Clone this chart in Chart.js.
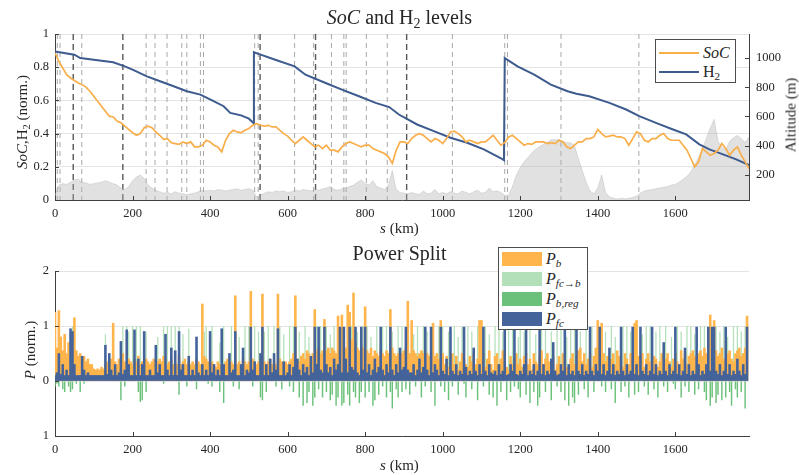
<!DOCTYPE html>
<html lang="en">
<head>
<meta charset="utf-8">
<title>SoC and H2 levels / Power Split</title>
<script src="https://cdn.jsdelivr.net/npm/chart.js@4.4.1/dist/chart.umd.min.js"></script>
<style>
  html, body { margin: 0; padding: 0; background: #fff; }
  #page { position: relative; width: 799px; height: 475px; overflow: hidden;
          font-family: "Liberation Serif", "DejaVu Serif", serif; color: #262626; }
  .panel { position: absolute; left: 0; width: 799px; }
  #socPanel { top: 0; height: 240px; }
  #powerPanel { top: 240px; height: 235px; }
  .label { position: absolute; white-space: nowrap; line-height: 1; }
  .title { left: 0; width: 799px; text-align: center; font-size: 20px; }
  .xlabel { left: 0; width: 799px; text-align: center; font-size: 15px; }
  .ylabel { font-size: 15px; transform: translate(-50%, -50%) rotate(-90deg); }
  sub { font-size: 70%; vertical-align: -0.3em; line-height: 0; }
  .legend { position: absolute; background: #fff; border: 1px solid #4d4d4d; box-sizing: border-box; }
  .legend .entry { position: absolute; left: 0; right: 0; height: 20px; }
  .legend .swatch { position: absolute; left: 3px; width: 40px; }
  .legend .text { position: absolute; left: 47px; font-size: 16px; line-height: 20px; top: 0; }
</style>
</head>
<body>
<div id="page">
  <div class="panel" id="socPanel"><canvas id="socChart"></canvas></div>
  <div class="panel" id="powerPanel"><canvas id="powerChart"></canvas></div>

  <div class="label title" style="top:7px;"><i>SoC</i> and H<sub>2</sub> levels</div>
  <div class="label xlabel" style="top:221px;"><i>s</i> (km)</div>
  <div class="label ylabel" style="left:22px; top:122px;"><i>SoC</i>,H<sub>2</sub> (norm.)</div>
  <div class="label ylabel" style="left:791px; top:115px;">Altitude (m)</div>

  <div class="label title" style="top:243px;">Power Split</div>
  <div class="label xlabel" style="top:458px;"><i>s</i> (km)</div>
  <div class="label ylabel" style="left:30px; top:350px;"><i>P</i> (norm.)</div>

  <div class="legend" style="left:655px; top:39px; width:81px; height:44px;">
    <div class="entry" style="top:3px;"><div class="swatch" style="top:9px; height:2px; background:#f9ae4a;"></div><div class="text"><i>SoC</i></div></div>
    <div class="entry" style="top:22px;"><div class="swatch" style="top:9px; height:2px; background:#3d5b8e;"></div><div class="text">H<sub>2</sub></div></div>
  </div>

  <div class="legend" style="left:498px; top:247px; width:90px; height:83px;">
    <div class="entry" style="top:1px;"><div class="swatch" style="top:3px; height:14px; background:#ffb54c;"></div><div class="text"><i>P<sub>b</sub></i></div></div>
    <div class="entry" style="top:21px;"><div class="swatch" style="top:3px; height:14px; background:#b3e0b8;"></div><div class="text"><i>P<sub>fc→b</sub></i></div></div>
    <div class="entry" style="top:41px;"><div class="swatch" style="top:3px; height:14px; background:#6cc17a;"></div><div class="text"><i>P<sub>b,reg</sub></i></div></div>
    <div class="entry" style="top:61px;"><div class="swatch" style="top:3px; height:14px; background:#43639a;"></div><div class="text"><i>P<sub>fc</sub></i></div></div>
  </div>
</div>

<script>
// Sample spacing along the route (km)
const socStepKm = 10;
const powerStepKm = 5;
const kmMax = 1790;

// Battery state of charge, one value every 10 km
const socLevel = [
  .885,.835,.795,.755,.735,.72,.705,.695,.68,.655,
  .625,.595,.565,.535,.505,.50,.475,.465,.445,.425,
  .405,.39,.40,.435,.445,.435,.41,.39,.365,.37,
  .345,.34,.335,.35,.34,.35,.32,.32,.33,.36,
  .35,.33,.32,.29,.36,.40,.42,.41,.405,.42,
  .43,.45,.46,.45,.445,.45,.44,.44,.42,.40,
  .385,.36,.34,.36,.38,.36,.34,.32,.33,.31,
  .33,.30,.30,.29,.32,.34,.35,.34,.33,.32,
  .33,.33,.31,.30,.29,.28,.26,.22,.30,.35,
  .35,.34,.37,.39,.40,.39,.37,.35,.37,.36,
  .34,.37,.41,.415,.40,.38,.35,.36,.35,.34,
  .35,.35,.37,.39,.36,.33,.345,.38,.39,.37,
  .35,.33,.34,.335,.35,.35,.35,.34,.345,.34,
  .36,.35,.32,.31,.33,.35,.35,.37,.37,.38,
  .425,.40,.38,.385,.39,.38,.38,.37,.33,.37,
  .41,.40,.36,.35,.37,.37,.39,.40,.37,.36,
  .36,.36,.33,.30,.25,.20,.23,.31,.29,.27,
  .28,.30,.34,.31,.27,.30,.32,.27,.23,.19
];

// Road altitude (m), same 10 km grid
const altitudeM = [
  60,130,140,135,150,165,170,150,145,135,
  140,145,150,160,150,140,130,110,100,120,
  160,185,200,175,130,110,95,85,75,80,
  70,85,75,70,65,70,75,85,95,90,
  95,90,100,95,90,95,100,105,95,100,
  105,95,50,60,75,85,80,90,85,90,
  80,85,95,90,100,95,90,100,95,105,
  110,120,100,95,105,110,120,130,150,165,
  140,130,160,120,110,100,130,230,100,80,
  75,70,80,70,65,90,70,75,100,70,
  80,70,85,75,70,90,80,70,85,95,
  75,80,110,85,90,80,60,60,120,200,
  250,290,320,350,375,395,410,425,440,440,
  442,430,420,420,400,310,230,150,90,70,
  110,200,80,50,40,35,40,35,40,45,
  55,75,90,95,100,105,110,115,120,130,
  135,150,170,190,220,270,320,380,450,520,
  580,430,390,370,430,455,470,450,420,460
];

// Hydrogen tank level, refuelled twice
const h2Km = [0,50,65,100,150,180,200,237,271,306,340,375,409,435,452,480,500,512,
  513,525,568,618,646,698,740,784,827,862,887,934,977,1020,1063,1106,1149,1158,
  1160,1193,1236,1279,1322,1345,1378,1430,1473,1507,1550,1594,1628,1662,1688,1723,1757,1790];
const h2Level = [.895,.875,.855,.845,.83,.805,.785,.745,.715,.685,.655,.635,.595,.565,.525,.51,.49,.464,
  .89,.88,.845,.805,.755,.705,.665,.625,.585,.56,.515,.455,.415,.375,.345,.305,.253,.24,
  .855,.805,.755,.695,.655,.64,.625,.585,.545,.505,.465,.425,.395,.335,.305,.275,.245,.21];

// Stops along the route (km)
const stopKmMajor = [47, 175, 529, 672, 907];
const stopKmMinor = [6, 13, 69, 235, 258, 289, 327, 340, 375, 383, 515, 524, 618, 667,
  713, 745, 751, 803, 857, 1025, 1160, 1167, 1305, 1506];

// Axis ticks
const kmTicks = [0, 200, 400, 600, 800, 1000, 1200, 1400, 1600];
const levelTicks = [0, 0.2, 0.4, 0.6, 0.8, 1];
const altitudeTicks = [200, 400, 600, 800, 1000];
const powerTicks = [-1, 0, 1, 2];
const powerTickLabels = ['1', '0', '1', '2'];

// Power split, one value every 5 km (normalised)
const pBattery = [
  1.25,.6,1.28,.8,.55,.85,.5,.7,.45,.6,1.15,.55,.45,.5,.4,.45,.35,.4,.3,.3,
  .22,.2,.22,.2,.25,.22,.3,.35,.3,.4,1.05,.35,.3,.4,.35,.5,.35,.3,.4,.35,
  .3,.4,.35,.45,.3,.35,.3,.4,.35,.3,.35,.4,.3,.35,.4,.35,.45,.35,.3,.35,
  .4,.3,.35,.3,.45,.3,.35,.4,.3,.35,.3,.35,.3,.4,.35,.3,1.4,.45,.4,.35,
  .3,.35,.3,.25,.35,.3,.25,.3,.35,.4,.3,.35,.3,1.55,.3,.35,.3,.4,.35,.3,
  .35,1.63,.4,.35,.3,.35,.4,1.58,.35,.3,.35,.4,.3,.35,.3,1.58,.4,.35,.3,.35,
  .3,.35,.4,.5,1.55,.4,.35,.45,.5,.4,.55,.5,.45,.5,1.3,.55,.6,.5,.55,1.12,
  .55,.6,.5,.6,.55,.5,1.18,.65,1.2,.7,.6,1.38,1.25,.75,1.6,.7,.6,.55,.65,.6,
  1.35,.55,.5,.6,.45,.55,.5,.45,.55,.5,.45,.55,.5,1.3,.6,.5,.45,.5,.4,.5,
  .55,.6,1.45,.5,1.1,.55,.5,.45,.5,.55,.5,.45,.5,.45,.5,1.05,.45,.5,.4,1.1,
  .5,.3,.45,.25,.4,.5,.3,.45,.2,.35,.5,.4,.3,.25,.45,.35,.5,.3,.4,1.1,
  1.1,.5,.25,.4,.55,.3,.2,.45,.5,.3,.4,.55,.35,.25,.2,.45,.3,.4,.5,.3,
  .4,.25,.45,.5,.3,.4,.2,.5,.35,.3,.45,.55,.3,.4,.5,.35,.25,.45,.2,.3,
  .45,.3,.5,.35,.25,.2,.4,.5,.3,.45,.55,.6,.35,.5,.3,.4,.5,.25,.45,.6,
  1.1,.6,1.05,.5,.35,.45,.25,.4,.5,.3,.55,.45,.35,.25,.5,.4,.3,.5,.35,1.05,
  1.1,.45,.3,.5,.25,.4,.5,.35,.2,.45,.4,.25,.35,.5,.3,.4,.5,.35,.25,.4,
  .5,.35,.25,.55,.4,.5,.3,.45,.5,.55,.45,.35,.5,.55,.45,.6,.5,.7,1.2,.65,
  1.1,.55,.45,.5,.6,.4,.35,.5,.55,.4,.35,.5,.55,.6,.45,.5,.6,1.18
];

const pFcToBattery = [
  0,0,0,0,0,0,0,0,0,1,1,0,0,0,0,0,0,0,0,0,
  0,0,0,0,0,0,.85,0,0,0,0,0,0,0,0,1,0,1,.9,0,
  1,0,1,0,1,0,0,.9,0,0,0,0,0,.8,0,0,1,0,1,0,
  1,0,1,0,1,0,.85,0,0,.95,0,0,0,0,0,0,0,.9,1,0,
  0,1,0,0,0,.7,0,1,0,0,0,1,0,0,0,.8,0,0,1,0,
  1,0,0,1,0,.9,0,0,.9,0,1,0,0,1,0,0,1,0,.85,0,
  0,1,0,1,0,0,.9,0,0,1,0,.8,0,0,0,1,0,1,0,0,
  1,0,.85,0,1,0,0,0,1,0,0,0,0,1,0,0,.9,0,0,1,
  0,1,0,.8,0,0,1,0,0,1,0,1,0,0,.9,0,0,1,0,1,
  0,0,1,0,0,.85,0,1,0,0,1,0,.9,0,0,1,0,0,1,0,
  1,0,0,.9,0,0,1,0,.8,0,1,0,0,1,0,.9,0,0,1,0,
  0,0,1,0,.85,0,0,1,0,1,0,.9,0,0,1,0,1,0,0,.8,
  1,0,.9,0,0,1,0,0,.85,0,0,1,0,1,0,0,.9,0,0,1,
  0,1,0,0,.8,0,1,0,1,0,0,.9,0,0,1,0,0,1,0,0,
  0,0,1,0,.9,0,0,1,0,.8,0,0,0,1,0,1,0,.9,0,1,
  1,0,0,.85,0,1,0,1,0,0,.9,0,1,0,0,1,0,0,.8,0,
  0,1,0,.9,0,0,1,0,1,0,.85,0,0,1,0,1,0,0,1,0,
  0,1,0,.9,0,1,0,.8,0,0,1,0,1,0,.9,0,1,0
];

const pRegen = [
  -.1,-.05,-.1,0,-.15,-.2,0,-.1,-.2,-.15,0,-.05,0,-.2,0,-.05,0,0,0,0,
  0,0,0,0,0,0,0,0,0,0,0,0,0,0,-.35,0,-.1,0,0,0,
  0,0,0,-.2,-.38,-.35,0,-.2,0,0,0,0,0,0,0,0,-.05,0,0,0,
  0,0,0,0,-.25,0,0,0,-.1,0,0,0,0,-.15,0,0,0,0,0,-.05,
  0,-.1,0,0,0,-.2,0,-.4,0,0,0,0,-.1,0,0,-.15,0,0,0,0,
  0,0,-.1,0,0,0,-.3,-.35,0,-.2,0,0,0,0,-.1,0,0,-.15,0,0,
  0,-.1,0,-.2,0,0,-.3,0,-.45,0,-.4,-.2,0,-.45,-.3,0,-.15,0,-.3,0,
  -.2,0,-.35,-.25,0,-.45,-.3,0,-.45,-.4,0,-.25,-.45,0,-.2,-.3,0,-.4,-.2,0,
  -.3,0,-.2,0,-.45,-.35,0,-.25,0,-.1,0,-.3,0,-.2,-.5,0,-.15,-.3,0,-.2,
  0,-.15,0,-.25,0,0,-.1,0,0,-.3,0,-.1,0,0,-.2,0,-.45,0,0,-.1,
  0,-.2,0,-.35,0,-.1,0,0,-.25,0,0,-.05,-.3,0,0,-.15,0,0,-.35,0,
  0,-.1,0,0,-.25,0,-.3,0,-.45,0,-.2,0,0,-.35,0,-.2,0,-.1,0,-.15,
  -.3,0,0,-.25,0,-.4,0,-.2,0,-.45,-.3,0,0,-.2,0,0,-.35,0,0,-.1,
  0,-.2,0,-.35,0,-.45,0,-.3,-.4,0,-.25,0,0,-.15,0,-.3,0,0,-.2,0,
  0,0,-.1,0,-.2,0,0,-.15,0,-.4,0,0,-.2,0,-.1,0,-.3,0,0,-.25,
  0,-.2,0,0,-.1,0,-.25,0,0,-.15,0,-.3,0,0,-.1,0,-.2,0,0,-.05,
  -.15,0,0,-.3,0,-.1,0,-.2,0,0,-.25,0,-.15,0,0,-.2,-.35,0,-.45,-.3,
  0,-.4,-.25,0,-.35,0,-.3,0,-.2,-.45,0,-.15,-.3,0,-.2,0,-.5,0
];

const pFuelCell = [
  .1,.15,.5,.12,.3,.1,.2,.1,.95,.9,.3,.1,.1,.1,.45,.2,.1,.15,.1,.1,
  .1,.1,.1,.1,.1,.1,.65,.12,.5,.2,.1,.3,.1,.15,.72,.12,.2,.93,.3,.1,
  .1,.93,.1,.4,.1,.3,.9,.1,.1,.2,.1,.1,.65,.15,.3,.1,.1,.85,.2,.1,
  .6,.1,.55,.1,.9,.2,.3,.1,.1,.45,.1,.2,.1,.8,.15,.1,.3,.1,.2,.1,
  .9,.15,.3,.1,.2,.1,.95,.3,.1,.1,.5,.15,.2,.9,.1,.1,.3,.6,.1,.2,
  .15,.98,.2,.35,.1,.1,.5,.98,.1,.3,.1,.4,.15,.5,.2,.95,.1,.1,.35,.1,
  .15,.3,.1,.25,.98,.4,.2,.1,.3,.15,.25,.1,.45,.15,.98,.3,.98,.2,.15,.98,
  .3,.15,.25,.1,.4,.2,.3,.98,.15,.98,.4,.15,.98,.25,.2,.98,.15,.1,.98,.2,
  .98,.15,.3,.1,.2,.4,.15,.25,.98,.2,.1,.3,.15,.98,.2,.1,.3,.15,.6,.2,
  .25,.98,.2,.15,.15,.3,.1,.2,.4,.15,.25,.98,.2,.1,.98,.15,.3,.2,.1,.98,
  .18,.12,.4,.1,.98,.18,.12,.3,.1,.18,.12,.98,.25,.1,.18,.12,.6,.18,.1,.3,
  .12,.98,.18,.1,.3,.15,.12,.18,.1,.3,.12,.18,.98,.1,.12,.3,.18,.98,.12,.1,
  .18,.12,.3,.98,.1,.18,.12,.3,.1,.18,.98,.12,.3,.1,.18,.12,.4,.7,.18,.1,
  .12,.3,.18,.98,.1,.3,.12,.18,.1,.98,.18,.12,.3,.1,.18,.12,.98,.18,.1,.3,
  .18,.98,.12,.3,.1,.18,.6,.12,.3,.1,.18,.12,.98,.18,.1,.3,.12,.18,.98,.12,
  .3,.1,.98,.18,.12,.3,.1,.18,.98,.12,.3,.1,.18,.12,.7,.18,.1,.3,.12,.18,
  .98,.12,.3,.1,.18,.6,.12,.3,.1,.18,.12,.98,.3,.1,.18,.12,.3,.98,.18,.98,
  .98,.18,.12,.3,.1,.18,.98,.12,.3,.1,.18,.12,.4,.18,.1,.3,.12,.98
];

// Styles
const axisColor = '#404040';
const gridColor = '#e4e4e4';
const tickColor = '#262626';
const tickFont = { family: 'Liberation Serif', size: 12.5 };

Chart.defaults.font.family = 'Liberation Serif';

// This function turns a list of values on a regular km grid into chart points
function toPoints(values, stepKm) {
  return values.map((v, i) => ({ x: i * stepKm, y: v }));
}

// This function pairs two lists into chart points
function pairPoints(xs, ys) {
  return xs.map((x, i) => ({ x: x, y: ys[i] }));
}

// Scale callbacks: fixed tick lists and fixed axis sizes
function useTicks(list) {
  return function(scale) { scale.ticks = list.map(v => ({ value: v })); };
}
function fixWidth(w) {
  return function(scale) { scale.width = w; scale.paddingTop = 0; scale.paddingBottom = 0; };
}
function fixHeight(h) {
  return function(scale) { scale.height = h; scale.paddingLeft = 0; scale.paddingRight = 0; };
}

// Dashed vertical lines at the stops
const stopLinesPlugin = {
  id: 'stopLines',
  beforeDatasetsDraw(chart) {
    const { ctx, chartArea } = chart;
    const x = chart.scales.x;
    ctx.save();
    ctx.beginPath();
    ctx.rect(chartArea.left, chartArea.top, chartArea.width, chartArea.height);
    ctx.clip();
    function drawStops(list, color, width, dash) {
      ctx.strokeStyle = color;
      ctx.lineWidth = width;
      ctx.setLineDash(dash);
      list.forEach(km => {
        const px = x.getPixelForValue(km);
        ctx.beginPath();
        ctx.moveTo(px, chartArea.top);
        ctx.lineTo(px, chartArea.bottom);
        ctx.stroke();
      });
    }
    drawStops(stopKmMinor, '#a8a8a8', 1, [5, 4]);
    drawStops(stopKmMajor, '#595959', 1.4, [6, 4]);
    ctx.restore();
  }
};

// Small tick marks pointing into the plot
const innerTicksPlugin = {
  id: 'innerTicks',
  afterDatasetsDraw(chart) {
    const { ctx, chartArea } = chart;
    ctx.save();
    ctx.strokeStyle = axisColor;
    ctx.lineWidth = 1;
    Object.values(chart.scales).forEach(scale => {
      scale.ticks.forEach(t => {
        const p = Math.round(scale.getPixelForValue(t.value)) + 0.5;
        ctx.beginPath();
        if (scale.position === 'left') {
          ctx.moveTo(chartArea.left, p); ctx.lineTo(chartArea.left + 4, p);
        } else if (scale.position === 'right') {
          ctx.moveTo(chartArea.right, p); ctx.lineTo(chartArea.right - 4, p);
        } else {
          ctx.moveTo(p, chartArea.bottom); ctx.lineTo(p, chartArea.bottom - 4);
        }
        ctx.stroke();
      });
    });
    ctx.restore();
  }
};

function kmAxis(height) {
  return {
    type: 'linear', min: 0, max: kmMax, offset: false,
    afterBuildTicks: useTicks(kmTicks), afterFit: fixHeight(height),
    grid: { display: false, drawTicks: false, offset: false },
    border: { display: true, color: axisColor, width: 1 },
    ticks: { font: tickFont, color: tickColor, padding: 6, maxRotation: 0, autoSkip: false,
             callback: v => String(v) }
  };
}

// SoC and H2 levels
new Chart(document.getElementById('socChart'), {
  type: 'line',
  data: {
    datasets: [
      { label: 'SoC', data: toPoints(socLevel, socStepKm), yAxisID: 'y',
        borderColor: '#f9ae4a', borderWidth: 1.7, pointRadius: 0, tension: 0, fill: false },
      { label: 'H2', data: pairPoints(h2Km, h2Level), yAxisID: 'y',
        borderColor: '#3d5b8e', borderWidth: 2, pointRadius: 0, tension: 0, fill: false },
      { label: 'Altitude', data: toPoints(altitudeM, socStepKm), yAxisID: 'yAlt',
        borderColor: 'rgba(175,175,175,0.55)', borderWidth: 0.7,
        backgroundColor: 'rgba(175,175,175,0.38)', pointRadius: 0, tension: 0, fill: 'start' }
    ]
  },
  options: {
    responsive: true, maintainAspectRatio: false, animation: false,
    layout: { padding: { top: 34, left: 0, right: 0, bottom: 0 } },
    plugins: { legend: { display: false }, tooltip: { enabled: false } },
    scales: {
      x: kmAxis(40),
      y: {
        position: 'left', min: 0, max: 1,
        afterBuildTicks: useTicks(levelTicks), afterFit: fixWidth(55),
        grid: { color: gridColor, drawTicks: false },
        border: { display: true, color: axisColor, width: 1 },
        ticks: { font: tickFont, color: tickColor, padding: 6, callback: v => String(v) }
      },
      yAlt: {
        position: 'right', min: 28, max: 1165,
        afterBuildTicks: useTicks(altitudeTicks), afterFit: fixWidth(50),
        grid: { display: false, drawTicks: false },
        border: { display: true, color: axisColor, width: 1 },
        ticks: { font: tickFont, color: tickColor, padding: 7, callback: v => String(v) }
      }
    }
  },
  plugins: [stopLinesPlugin, innerTicksPlugin]
});

// Power split
new Chart(document.getElementById('powerChart'), {
  type: 'bar',
  data: {
    datasets: [
      { label: 'Pb', data: toPoints(pBattery, powerStepKm), backgroundColor: '#ffb54c', order: 3 },
      { label: 'Pfc->b', data: toPoints(pFcToBattery, powerStepKm), backgroundColor: '#b3e0b8',
        barPercentage: 0.65, order: 4 },
      { label: 'Pb,reg', data: toPoints(pRegen, powerStepKm), backgroundColor: '#6cc17a',
        barPercentage: 0.75, order: 2 },
      { label: 'Pfc', data: toPoints(pFuelCell, powerStepKm), backgroundColor: '#43639a', order: 1 }
    ]
  },
  options: {
    responsive: true, maintainAspectRatio: false, animation: false,
    datasets: { bar: { grouped: false, barPercentage: 1, categoryPercentage: 1, borderWidth: 0 } },
    layout: { padding: { top: 31, left: 0, right: 50, bottom: 0 } },
    plugins: { legend: { display: false }, tooltip: { enabled: false } },
    scales: {
      x: kmAxis(39),
      y: {
        position: 'left', min: -1, max: 2,
        afterBuildTicks: useTicks(powerTicks), afterFit: fixWidth(55),
        grid: { color: gridColor, drawTicks: false },
        border: { display: true, color: axisColor, width: 1 },
        ticks: { font: tickFont, color: tickColor, padding: 6,
                 callback: (v, i) => powerTickLabels[i] }
      }
    }
  },
  plugins: [innerTicksPlugin]
});
</script>
</body>
</html>
